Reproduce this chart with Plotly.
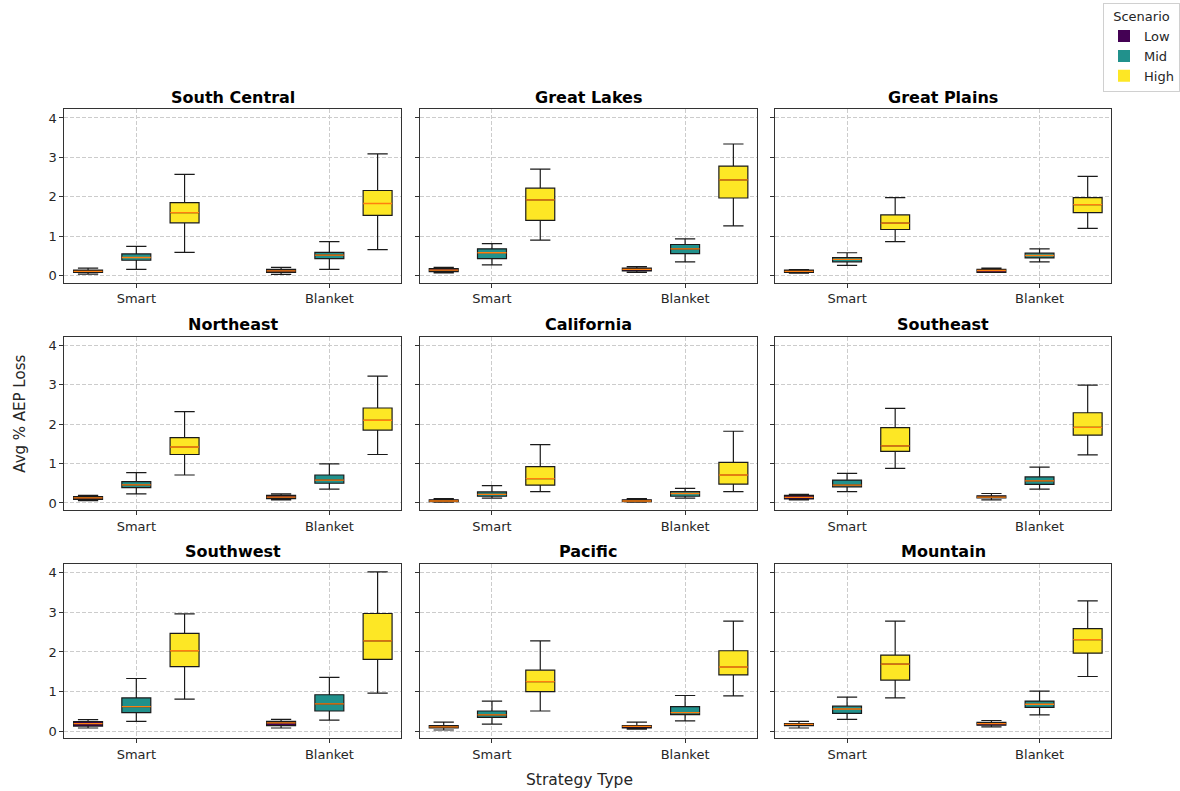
import plotly.graph_objects as go

# Regions, in panel order (row by row)
regions = ["South Central", "Great Lakes", "Great Plains",
           "Northeast", "California", "Southeast",
           "Southwest", "Pacific", "Mountain"]
strategies = ["Smart", "Blanket"]
scenarios = ["Low", "Mid", "High"]
scenario_colors = ["#440154", "#21918c", "#fde725"]

# Box statistics per region; column order:
# Smart-Low, Smart-Mid, Smart-High, Blanket-Low, Blanket-Mid, Blanket-High
whisker_low = [
    [0.04, 0.16, 0.59, 0.03, 0.16, 0.66],
    [0.07, 0.27, 0.90, 0.08, 0.35, 1.26],
    [0.06, 0.26, 0.86, 0.08, 0.35, 1.20],
    [0.06, 0.23, 0.71, 0.08, 0.35, 1.23],
    [0.02, 0.12, 0.29, 0.02, 0.12, 0.29],
    [0.08, 0.29, 0.88, 0.08, 0.35, 1.22],
    [0.08, 0.25, 0.81, 0.08, 0.28, 0.96],
    [0.03, 0.18, 0.51, 0.05, 0.26, 0.89],
    [0.08, 0.30, 0.84, 0.11, 0.41, 1.38],
]
q1 = [
    [0.08, 0.39, 1.34, 0.08, 0.43, 1.53],
    [0.10, 0.43, 1.40, 0.12, 0.56, 1.97],
    [0.08, 0.35, 1.17, 0.08, 0.45, 1.60],
    [0.09, 0.39, 1.23, 0.11, 0.50, 1.85],
    [0.03, 0.17, 0.45, 0.03, 0.17, 0.48],
    [0.10, 0.41, 1.31, 0.13, 0.47, 1.72],
    [0.13, 0.47, 1.63, 0.14, 0.51, 1.81],
    [0.08, 0.35, 1.00, 0.08, 0.42, 1.42],
    [0.14, 0.45, 1.29, 0.15, 0.60, 1.97],
]
median = [
    [0.11, 0.46, 1.60, 0.12, 0.52, 1.83],
    [0.14, 0.58, 1.92, 0.16, 0.68, 2.43],
    [0.11, 0.41, 1.33, 0.13, 0.51, 1.80],
    [0.13, 0.46, 1.42, 0.15, 0.58, 2.10],
    [0.05, 0.22, 0.62, 0.05, 0.24, 0.71],
    [0.14, 0.45, 1.45, 0.15, 0.56, 1.92],
    [0.19, 0.62, 2.03, 0.21, 0.69, 2.28],
    [0.11, 0.41, 1.25, 0.12, 0.47, 1.62],
    [0.17, 0.56, 1.69, 0.19, 0.68, 2.31],
]
q3 = [
    [0.14, 0.55, 1.85, 0.16, 0.59, 2.16],
    [0.18, 0.68, 2.22, 0.19, 0.79, 2.78],
    [0.14, 0.46, 1.54, 0.16, 0.57, 1.98],
    [0.16, 0.54, 1.66, 0.19, 0.71, 2.41],
    [0.08, 0.28, 0.92, 0.08, 0.29, 1.03],
    [0.19, 0.58, 1.91, 0.18, 0.66, 2.29],
    [0.24, 0.84, 2.47, 0.25, 0.92, 2.97],
    [0.14, 0.51, 1.54, 0.14, 0.62, 2.03],
    [0.19, 0.63, 1.92, 0.22, 0.76, 2.59],
]
whisker_high = [
    [0.19, 0.74, 2.57, 0.21, 0.86, 3.09],
    [0.21, 0.81, 2.70, 0.23, 0.93, 3.34],
    [0.15, 0.58, 1.98, 0.19, 0.68, 2.52],
    [0.19, 0.77, 2.32, 0.23, 0.99, 3.22],
    [0.11, 0.44, 1.48, 0.11, 0.37, 1.82],
    [0.22, 0.75, 2.40, 0.24, 0.91, 2.99],
    [0.29, 1.33, 2.96, 0.30, 1.36, 4.02],
    [0.23, 0.76, 2.28, 0.23, 0.90, 2.78],
    [0.25, 0.86, 2.78, 0.27, 1.01, 3.29],
]

box_offsets = [-0.25, 0.0, 0.25]
box_width = 0.15

# Panel placement in paper coordinates
col_domains = [[0.0545, 0.3398], [0.3559, 0.6413], [0.6570, 0.9415]]
row_domains = [[0.6426, 0.8618], [0.3552, 0.5743], [0.0666, 0.2870]]

FONT = "DejaVu Sans"
TEXT = "#262626"
GRID = dict(showgrid=True, gridcolor="#cccccc", griddash="4px,2px",
            gridwidth=0.8, zeroline=False, showline=True,
            linecolor="#333333", linewidth=1, mirror=True,
            ticks="outside", ticklen=4, tickcolor="#333333",
            tickfont=dict(family=FONT, size=13, color=TEXT))

fig = go.Figure()
layout = {}
annotations = []

for i, region in enumerate(regions):
    r, c = divmod(i, 3)
    sfx = "" if i == 0 else str(i + 1)
    xref, yref = "x" + sfx, "y" + sfx
    for s, (scen, color) in enumerate(zip(scenarios, scenario_colors)):
        idx = [s, 3 + s]
        xs = [k + box_offsets[s] for k in range(len(strategies))]
        fig.add_trace(go.Box(
            x=xs,
            q1=[q1[i][j] for j in idx],
            median=[median[i][j] for j in idx],
            q3=[q3[i][j] for j in idx],
            lowerfence=[whisker_low[i][j] for j in idx],
            upperfence=[whisker_high[i][j] for j in idx],
            width=box_width, whiskerwidth=0.7,
            fillcolor=color, line=dict(color="#1a1a1a", width=1.2),
            boxpoints=False, showlegend=False, hoverinfo="skip",
            xaxis=xref, yaxis=yref, name=scen,
        ))
        # Orange median segments
        mx, my = [], []
        for x0, j in zip(xs, idx):
            mx += [x0 - box_width / 2, x0 + box_width / 2, None]
            my += [median[i][j], median[i][j], None]
        fig.add_trace(go.Scatter(
            x=mx, y=my, mode="lines", line=dict(color="#ff7f0e", width=1.3),
            showlegend=False, hoverinfo="skip", xaxis=xref, yaxis=yref,
        ))

    layout["xaxis" + sfx] = dict(
        domain=col_domains[c], anchor=yref, range=[-0.373, 1.371],
        tickvals=list(range(len(strategies))), ticktext=strategies, **GRID,
    )
    layout["yaxis" + sfx] = dict(
        domain=row_domains[r], anchor=xref, range=[-0.18, 4.22],
        tickvals=[0, 1, 2, 3, 4], showticklabels=(c == 0), **GRID,
    )
    annotations.append(dict(
        text="<b>" + region + "</b>", xref="paper", yref="paper",
        x=sum(col_domains[c]) / 2, y=row_domains[r][1] + 12 / 791,
        xanchor="center", yanchor="middle", showarrow=False,
        font=dict(family=FONT, size=16, color="black"),
    ))

# Legend entries
for scen, color in zip(scenarios, scenario_colors):
    fig.add_trace(go.Scatter(
        x=[None], y=[None], mode="markers", name=scen,
        marker=dict(symbol="square", size=10, color=color),
    ))

annotations.append(dict(
    text="Avg % AEP Loss", xref="paper", yref="paper", x=0.017, y=0.477,
    textangle=-90, showarrow=False, xanchor="center", yanchor="middle",
    font=dict(family=FONT, size=15, color=TEXT),
))
annotations.append(dict(
    text="Strategy Type", xref="paper", yref="paper", x=0.4915,
    y=1 - 780 / 791, showarrow=False, xanchor="center", yanchor="middle",
    font=dict(family=FONT, size=15.5, color=TEXT),
))

fig.update_layout(
    width=1180, height=791,
    margin=dict(l=0, r=0, t=0, b=0),
    paper_bgcolor="white", plot_bgcolor="white",
    font=dict(family=FONT, size=13, color=TEXT),
    annotations=annotations,
    legend=dict(
        title=dict(text="Scenario", side="top center",
                   font=dict(family=FONT, size=13)),
        x=1.0, y=0.996, xanchor="right", yanchor="top",
        bordercolor="#d0d0d0", borderwidth=1, bgcolor="white",
        font=dict(family=FONT, size=13), itemsizing="constant",
        tracegroupgap=0,
    ),
    **layout,
)

fig.write_html("out.html")
